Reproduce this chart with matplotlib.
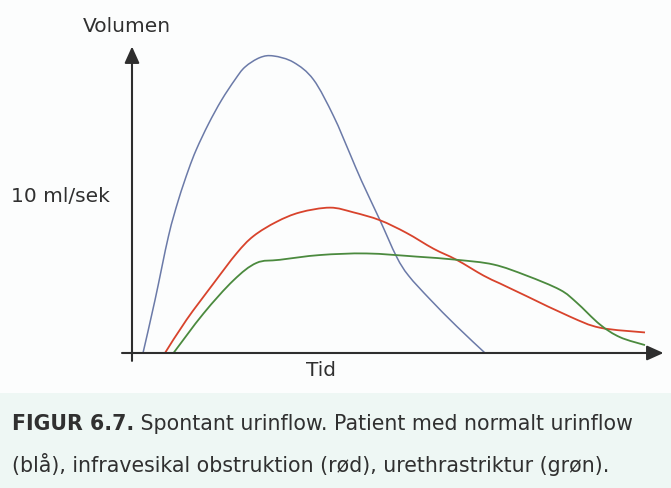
import matplotlib
matplotlib.use("Agg")
import matplotlib.pyplot as plt
from matplotlib.patches import Rectangle, PathPatch
from matplotlib.path import Path

# time (arbitrary units) and flow (ml/sek)
blue_t = [2.2, 4.6, 7.3, 9.3, 11.3, 12.9, 15.3, 17.9, 20.6, 22.6, 25.6, 28.3, 32.3,
          36.3, 40.3, 43.6, 45.9, 49.6, 52.9, 55.3, 59.6, 64.9, 70.6]
blue_q = [0.0, 3.35, 7.4, 9.7, 11.6, 12.9, 14.5, 16.0, 17.3, 18.1, 18.7, 18.8, 18.4,
          17.3, 15.0, 12.6, 10.9, 8.4, 6.1, 4.9, 3.4, 1.7, 0.0]

red_t = [6.6, 10.9, 16.3, 20.9, 24.3, 28.9, 33.6, 39.6, 44.3, 49.6, 54.9, 60.3,
         64.9, 70.3, 73.6, 78.9, 87.6, 93.6, 102.6]
red_q = [0.0, 2.1, 4.4, 6.3, 7.4, 8.3, 8.9, 9.2, 8.9, 8.4, 7.6, 6.6,
         5.9, 4.9, 4.4, 3.6, 2.3, 1.6, 1.3]

green_t = [8.3, 14.3, 20.3, 24.9, 29.6, 37.6, 46.9, 56.9, 64.9, 72.3, 78.9, 85.6,
           88.9, 93.6, 97.6, 102.6]
green_q = [0.0, 2.5, 4.6, 5.7, 5.9, 6.2, 6.3, 6.1, 5.9, 5.6, 4.9, 4.0,
           3.2, 1.8, 1.0, 0.5]

ytick_val = 10
ytick_label = "10 ml/sek"
caption_bold = "FIGUR 6.7."
caption_rest = " Spontant urinflow. Patient med normalt urinflow"
caption_line2 = "(blå), infravesikal obstruktion (rød), urethrastriktur (grøn)."

plt.rcParams['font.family'] = ['DejaVu Sans']
text_col = '#303030'
axis_col = '#2e2e2e'


def smooth_path(xs, ys):
    # Catmull-Rom through the points, drawn as cubic Bezier segments
    verts = [(xs[0], ys[0])]
    codes = [Path.MOVETO]
    n = len(xs)
    for i in range(n - 1):
        x0, y0 = (xs[i - 1], ys[i - 1]) if i > 0 else (xs[i], ys[i])
        x1, y1 = xs[i], ys[i]
        x2, y2 = xs[i + 1], ys[i + 1]
        x3, y3 = (xs[i + 2], ys[i + 2]) if i + 2 < n else (x2, y2)
        verts += [(x1 + (x2 - x0) / 6, y1 + (y2 - y0) / 6),
                  (x2 - (x3 - x1) / 6, y2 - (y3 - y1) / 6),
                  (x2, y2)]
        codes += [Path.CURVE4] * 3
    return Path(verts, codes)


fig = plt.figure(figsize=(6.71, 4.88), dpi=100)
fig.patch.set_facecolor('#fcfdfd')
# light tinted band behind the caption
fig.patches.append(Rectangle((0, 0), 1, (488 - 393) / 488, transform=fig.transFigure,
                             facecolor='#eef7f4', edgecolor='none', zorder=0))

ax = fig.add_axes([120 / 671, (488 - 365) / 488, 550 / 671, 325 / 488])
ax.set_xlim(-2.4, 107.6)
ax.set_ylim(-0.76, 19.81)
ax.patch.set_alpha(0)
for s in ax.spines.values():
    s.set_visible(False)
ax.set_xticks([])
ax.set_yticks([ytick_val])
ax.set_yticklabels([ytick_label], fontsize=14.5, color=text_col)
ax.tick_params(axis='y', length=0, pad=7.5)

for xs, ys, col, lw in [(blue_t, blue_q, '#6b7aa8', 1.1),
                        (red_t, red_q, '#d8432c', 1.3),
                        (green_t, green_q, '#4b8a3e', 1.3)]:
    ax.add_patch(PathPatch(smooth_path(xs, ys), facecolor='none', edgecolor=col, lw=lw))

# axes with arrow heads
arrow = dict(arrowstyle='-|>,head_length=1.0,head_width=0.45', color=axis_col, lw=1.5,
             shrinkA=0, shrinkB=0)
ax.annotate('', xy=(106.3, 0), xytext=(-2.0, 0), arrowprops=arrow)
ax.annotate('', xy=(0, 19.4), xytext=(0, -0.5), arrowprops=arrow)

fig.text(127 / 671, 1 - 26 / 488, "Volumen", ha='center', va='center',
         fontsize=14.5, color=text_col)
fig.text(321 / 671, 1 - 370 / 488, "Tid", ha='center', va='center',
         fontsize=14.5, color=text_col)

# caption: bold label followed by regular text
fig.canvas.draw()
r = fig.canvas.get_renderer()
t1 = fig.text(12 / 671, 1 - 424 / 488, caption_bold, ha='left', va='center',
              fontsize=14.8, fontweight='bold', color=text_col)
bb = t1.get_window_extent(renderer=r)
fig.text(bb.x1 / fig.bbox.width, 1 - 424 / 488, caption_rest, ha='left', va='center',
         fontsize=14.8, color=text_col)
fig.text(12 / 671, 1 - 464 / 488, caption_line2, ha='left', va='center',
         fontsize=14.8, color=text_col)

fig.savefig('out.png', dpi=100, facecolor=fig.get_facecolor())
